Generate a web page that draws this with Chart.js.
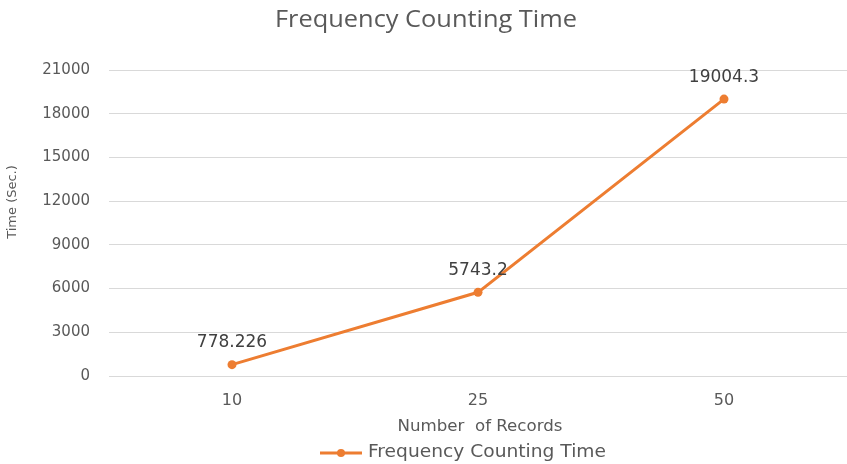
<!DOCTYPE html>
<html>
<head>
<meta charset="utf-8">
<script src="https://cdn.jsdelivr.net/npm/chart.js@4/dist/chart.umd.min.js"></script>
<style>
  html, body { margin: 0; padding: 0; background: #ffffff; }
  #wrap { width: 847px; height: 464px; }
</style>
</head>
<body>
<div id="wrap"><canvas id="c" width="847" height="464"></canvas></div>
<script>
// Chart data
const categories = ['10', '25', '50'];
const seriesName = 'Frequency Counting Time';
const timeValues = [778.226, 5743.2, 19004.3];
const valueLabels = ['778.226', '5743.2', '19004.3'];
const yTicks = [0, 3000, 6000, 9000, 12000, 15000, 18000, 21000];

const chartTitle = 'Frequency Counting Time';
const xTitle = 'Number  of Records';
const yTitle = 'Time (Sec.)';

const lineColor = '#ED7D31';
const textColor = '#595959';

// Draw a string at x, y, widened or narrowed to a set width
function drawWideText(ctx, text, x, y, font, width, align) {
  ctx.save();
  ctx.font = font;
  const w = ctx.measureText(text).width;
  const k = width / w;
  ctx.translate(x, y);
  ctx.scale(k, 1);
  ctx.textAlign = align || 'center';
  ctx.fillText(text, 0, 0);
  ctx.restore();
}

// Title, axis titles, value labels and legend drawn on the canvas
const decorations = {
  id: 'decorations',
  afterDatasetsDraw(chart) {
    const ctx = chart.ctx;
    ctx.save();
    ctx.textBaseline = 'middle';

    // value labels above each point
    const meta = chart.getDatasetMeta(0);
    ctx.fillStyle = '#404040';
    ctx.font = '17px "DejaVu Sans"';
    ctx.textAlign = 'center';
    meta.data.forEach((pt, i) => {
      ctx.fillText(valueLabels[i], pt.x, pt.y - 22);
    });

    // chart title
    ctx.fillStyle = textColor;
    ctx.textBaseline = 'alphabetic';
    drawWideText(ctx, chartTitle, 426, 27, '24px "Open Sans"', 302);
    ctx.textBaseline = 'middle';

    // x axis title
    drawWideText(ctx, xTitle, 480, 427, '15px "DejaVu Sans"', 165);

    // y axis title (rotated)
    ctx.save();
    ctx.translate(13, 202);
    ctx.rotate(-Math.PI / 2);
    ctx.font = '13px "DejaVu Sans"';
    ctx.textAlign = 'center';
    ctx.fillText(yTitle, 0, 0);
    ctx.restore();

    // legend: line with dot marker, then series name
    ctx.strokeStyle = lineColor;
    ctx.lineWidth = 3;
    ctx.beginPath();
    ctx.moveTo(320, 453);
    ctx.lineTo(362, 453);
    ctx.stroke();
    ctx.fillStyle = lineColor;
    ctx.beginPath();
    ctx.arc(341, 453, 4, 0, Math.PI * 2);
    ctx.fill();
    ctx.fillStyle = textColor;
    drawWideText(ctx, seriesName, 368, 453, '17px "DejaVu Sans"', 238, 'left');

    ctx.restore();
  }
};

new Chart(document.getElementById('c'), {
  type: 'line',
  data: {
    labels: categories,
    datasets: [{
      label: seriesName,
      data: timeValues,
      borderColor: lineColor,
      backgroundColor: lineColor,
      borderWidth: 3,
      pointRadius: 4.5,
      pointHoverRadius: 4.5,
      pointBackgroundColor: lineColor,
      pointBorderWidth: 0,
      tension: 0
    }]
  },
  options: {
    responsive: false,
    animation: false,
    layout: { autoPadding: false, padding: { top: 70, left: 0, right: 0, bottom: 0 } },
    plugins: {
      legend: { display: false },
      title: { display: false },
      tooltip: { enabled: false }
    },
    scales: {
      x: {
        offset: true,
        grid: { display: false, drawTicks: false },
        border: { display: true, color: '#d9d9d9', width: 1 },
        ticks: {
          color: textColor,
          font: { family: 'DejaVu Sans', size: 16 },
          padding: 15
        },
        afterFit(scale) { scale.height = 88; }
      },
      y: {
        min: 0,
        max: 21000,
        afterBuildTicks(scale) { scale.ticks = yTicks.map(v => ({ value: v })); },
        grid: { color: '#d9d9d9', lineWidth: 1, drawTicks: false },
        border: { display: false },
        ticks: {
          color: textColor,
          font: { family: 'DejaVu Sans', size: 15 },
          padding: 19,
          callback: (v) => String(v)
        },
        afterFit(scale) { scale.width = 109; }
      }
    }
  },
  plugins: [decorations]
});
</script>
</body>
</html>
